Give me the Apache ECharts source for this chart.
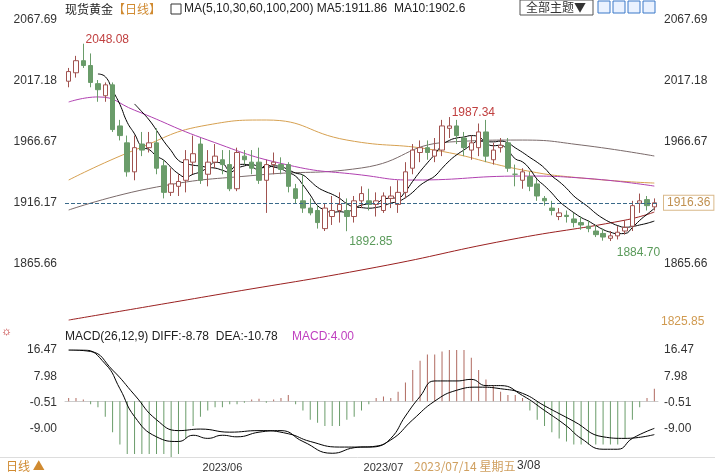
<!DOCTYPE html>
<html>
<head>
<meta charset="utf-8">
<script src="https://cdn.jsdelivr.net/npm/echarts@6/dist/echarts.min.js"></script>
<style>
  html, body { margin: 0; padding: 0; background: #fff; }
  #main { width: 715px; height: 475px; }
</style>
</head>
<body>
<div id="main"></div>
<script>
// 日K数据
const openPx  = [2017,2024,2034,2030,2015,2005,2014,1980,1966,1942,1965,1962,1966,1947,1925,1930,1935,1950,1965,1940,1950,1952,1948,1928,1955,1950,1950,1935,1948,1948,1948,1928,1918,1912,1910,1895,1905,1910,1910,1905,1918,1918,1915,1910,1920,1915,1925,1945,1958,1962,1955,1960,1978,1980,1970,1960,1962,1975,1952,1962,1966,1940,1935,1938,1932,1920,1912,1905,1906,1903,1900,1897,1893,1891,1887,1889,1893,1897,1916,1919,1913];
const closePx = [2025,2034,2030,2016,2010,2014,1977,1972,1942,1962,1960,1966,1945,1925,1932,1934,1952,1957,1935,1950,1955,1948,1928,1958,1952,1945,1935,1948,1950,1944,1930,1920,1912,1908,1900,1912,1910,1915,1905,1918,1924,1915,1918,1922,1922,1925,1942,1960,1962,1958,1960,1980,1980,1972,1962,1966,1975,1955,1960,1964,1945,1940,1942,1930,1922,1918,1910,1908,1905,1900,1898,1895,1890,1888,1889,1892,1896,1914,1918,1914,1916.36];
const lowPx   = [2012,2020,2028,2012,2000,2000,1975,1968,1938,1935,1955,1958,1940,1920,1922,1922,1925,1940,1932,1930,1945,1940,1926,1926,1948,1940,1932,1908,1940,1940,1925,1916,1908,1906,1895,1893,1898,1900,1892.85,1900,1912,1910,1905,1908,1912,1908,1920,1940,1950,1952,1950,1955,1970,1965,1955,1952,1955,1950,1948,1958,1942,1930,1928,1926,1918,1914,1906,1902,1900,1896,1894,1892,1888,1885,1884.7,1886,1890,1893,1908,1910,1910];
const highPx  = [2028,2038,2048.08,2040,2018,2016,2016,1985,1972,1972,1975,1975,1978,1952,1945,1940,1960,1972,1970,1960,1965,1960,1960,1962,1960,1960,1962,1952,1958,1954,1950,1932,1940,1920,1914,1916,1922,1925,1920,1922,1930,1928,1925,1925,1930,1935,1950,1965,1968,1968,1970,1985,1987.34,1985,1975,1972,1982,1985,1966,1970,1970,1948,1945,1942,1936,1922,1918,1912,1910,1908,1905,1902,1898,1895,1893,1897,1902,1918,1924,1922,1920];

// 长周期均线（估读点，[序号, 值]）
const ma30  = [[0,1999.8],[4,2004],[9,1993],[19,1968.3],[30,1947.6],[40,1939.4],[47,1935.2],[62,1938.5],[70,1936.9],[80,1930.2]];
const ma60  = [[0,1935.2],[9,1960],[19,1980.8],[27,1984.9],[38,1968.3],[50,1960],[62,1943.5],[70,1936.9],[80,1932.7]];
const ma100 = [[0,1910.4],[12,1929.4],[26,1939.4],[40,1945.2],[52,1966.7],[62,1968.3],[70,1964.2],[80,1955.1]];
const ma200 = [[0,1819.3],[20,1840],[42,1863],[60,1885.5],[76,1902],[80,1908.7]];

// MACD
const macdHist = [1,1,0.5,-1,-2,-5,-10,-14,-17,-17,-17,-17,-17,-17,-18,-17,-12,-8,-5,-3,-2,-2,-1,-1,-0.5,0.5,0.8,-0.5,0.5,1,2,-1,-3,-6,-7,-8,-8,-8,-6,-5,-3,-1,1,1.5,1,3,6,10,13,15,15,16,17,17,18,14,10,7,5,3,2,2,1,-3,-6,-8,-10,-12,-13,-14,-14,-14,-14,-14,-14,-14,-12,-6,-2,1,4];
const diffLine = [[0,16.5],[2,16.5],[5,12],[7,4],[9,-5],[12,-11.5],[15,-13],[17,-11],[19,-12],[21,-11],[23,-11.5],[26,-10],[29,-9.5],[32,-13],[36,-16.8],[39,-15],[42,-14.5],[44,-12],[46,-4.8],[48,1.5],[50,6.5],[53,6.5],[55,7],[57,5],[59,5],[62,1.8],[65,-3],[68,-8],[70,-12],[73,-15.5],[75,-15.5],[77,-12],[80,-8.78]];
const deaLine  = [[0,16.5],[3,16],[6,10],[9,2],[12,-6],[15,-9.5],[18,-9],[22,-10],[26,-9.5],[30,-10.5],[33,-13],[37,-14.8],[41,-14.8],[44,-12.5],[47,-6],[50,0],[53,3.5],[56,4.5],[59,4],[62,2.5],[65,-1.5],[69,-6.5],[73,-11.5],[76,-12],[80,-10.78]];

// 刻度
const priceTicks = [2067.69, 2017.18, 1966.67, 1916.17, 1865.66];
const macdTicks = [16.47, 7.98, -0.51, -9.00];
const monthStarts = ['2023/06/01', '2023/07/03'];
const lastPrice = 1916.36;

// 交易日（周一至周五）
const dates = [];
const d = new Date(2023, 4, 3);
while (dates.length < closePx.length) {
  if (d.getDay() !== 0 && d.getDay() !== 6) {
    dates.push(d.getFullYear() + '/' + String(d.getMonth() + 1).padStart(2, '0') + '/' + String(d.getDate()).padStart(2, '0'));
  }
  d.setDate(d.getDate() + 1);
}

const kData = closePx.map((c, i) => [openPx[i], c, lowPx[i], highPx[i]]);

function calcMA(n) {
  return closePx.map((c, i) => {
    if (i < n - 1) return '-';
    let s = 0;
    for (let k = i - n + 1; k <= i; k++) s += closePx[k];
    return +(s / n).toFixed(2);
  });
}

const fontFamily = '"Liberation Sans", Arial, sans-serif';
const chart = echarts.init(document.getElementById('main'));

const thin = (color) => ({
  type: 'line', symbol: 'none', connectNulls: true, smooth: true,
  lineStyle: { width: 1, color: color }, z: 3
});

const mark = (i, v, color, off) => ({
  coord: [i, v], value: v.toFixed(2),
  label: { color: color, offset: off }
});

chart.setOption({
  animation: false,
  textStyle: { fontFamily: fontFamily },
  grid: [
    { left: 65, right: 57, top: 20, height: 305 },
    { left: 65, right: 57, top: 350, height: 107 }
  ],
  xAxis: [
    { type: 'category', gridIndex: 0, data: dates, boundaryGap: true,
      axisLine: { show: false }, axisTick: { show: false }, axisLabel: { show: false } },
    { type: 'category', gridIndex: 1, data: dates, boundaryGap: true,
      axisLine: { lineStyle: { color: '#ccc' } }, axisTick: { show: false },
      axisLabel: { interval: 0, color: '#333', fontSize: 11, margin: 5,
        formatter: v => monthStarts.includes(v) ? v.slice(0, 7) : '' } }
  ],
  yAxis: [
    { type: 'value', gridIndex: 0, min: 1815.2, max: 2067.69, position: 'left',
      axisLine: { show: false }, axisTick: { show: false }, splitLine: { show: false },
      axisLabel: { customValues: priceTicks, color: '#333', fontSize: 12, margin: 8, formatter: v => v.toFixed(2) } },
    { type: 'value', gridIndex: 0, min: 1815.2, max: 2067.69, position: 'right',
      axisLine: { show: false }, axisTick: { show: false }, splitLine: { show: false },
      axisLabel: { customValues: priceTicks, color: '#333', fontSize: 12, margin: 6, formatter: v => v.toFixed(2) } },
    { type: 'value', gridIndex: 1, min: -18, max: 16.47, position: 'left',
      axisLine: { show: false }, axisTick: { show: false }, splitLine: { show: false },
      axisLabel: { customValues: macdTicks, color: '#333', fontSize: 12, margin: 8, formatter: v => v.toFixed(2) } },
    { type: 'value', gridIndex: 1, min: -18, max: 16.47, position: 'right',
      axisLine: { show: false }, axisTick: { show: false }, splitLine: { show: false },
      axisLabel: { customValues: macdTicks, color: '#333', fontSize: 12, margin: 6, formatter: v => v.toFixed(2) } }
  ],
  series: [
    Object.assign(thin('#c9b8c9'), { data: ma100, lineStyle: { width: 1, color: '#7a6a6a' } }),
    Object.assign(thin('#d6a050'), { data: ma60 }),
    Object.assign(thin('#b040b0'), { data: ma30 }),
    Object.assign(thin('#9a2020'), { data: ma200 }),
    {
      type: 'candlestick', data: kData, barWidth: 5, z: 4,
      itemStyle: { color: '#ffffff', color0: '#6a9c6a', borderColor: '#a0524f', borderColor0: '#6a9c6a', borderWidth: 1 },
      markPoint: {
        symbol: 'circle', symbolSize: 1,
        itemStyle: { color: 'rgba(0,0,0,0)' },
        data: [
          mark(2, 2048.08, '#c04040', [24, -4]),
          mark(52, 1987.34, '#c04040', [24, -4]),
          mark(38, 1892.85, '#5a9a5a', [24, 10]),
          mark(74, 1884.7, '#5a9a5a', [28, 12])
        ],
        label: { show: true, position: 'inside', fontSize: 12, formatter: p => p.value }
      },
      markLine: {
        symbol: 'none', silent: true,
        lineStyle: { type: 'dashed', color: '#3a6a8a', width: 1 },
        label: { position: 'end', formatter: () => lastPrice.toFixed(2), color: '#c09050',
          backgroundColor: '#fff', borderColor: '#d9b98a', borderWidth: 1, padding: [1, 3], fontSize: 12, distance: 6 },
        data: [{ yAxis: lastPrice }]
      }
    },
    Object.assign(thin('#000'), { data: calcMA(5), smooth: true }),
    Object.assign(thin('#000'), { data: calcMA(10), smooth: true }),
    {
      type: 'bar', xAxisIndex: 1, yAxisIndex: 2, barWidth: 1,
      data: macdHist.map(v => ({ value: v, itemStyle: { color: v >= 0 ? '#b06a60' : '#6a9c6a' } }))
    },
    { type: 'line', xAxisIndex: 1, yAxisIndex: 2, data: diffLine, symbol: 'none', smooth: true, lineStyle: { width: 1, color: '#000' } },
    { type: 'line', xAxisIndex: 1, yAxisIndex: 2, data: deaLine, symbol: 'none', smooth: true, lineStyle: { width: 1, color: '#000' } }
  ],
  graphic: [
    { type: 'text', left: 65, top: 3, style: { text: '现货黄金', fontSize: 12, fill: '#222', fontFamily: '"Noto Sans CJK SC"' } },
    { type: 'text', left: 113, top: 3, style: { text: '【日线】', fontSize: 12, fill: '#d08a30', fontFamily: '"Noto Sans CJK SC"' } },
    { type: 'rect', shape: { x: 171, y: 4, width: 10, height: 10 }, style: { fill: '#fff', stroke: '#333' } },
    { type: 'text', left: 184, top: 3, style: { text: 'MA(5,10,30,60,100,200) MA5:1911.86  MA10:1902.6', fontSize: 12, fill: '#222' } },
    { type: 'rect', shape: { x: 520, y: 0, width: 73, height: 15 }, style: { fill: '#fff', stroke: '#555' } },
    { type: 'text', left: 526, top: 1, style: { text: '全部主题▼', fontSize: 12, fill: '#333', fontFamily: '"Noto Sans CJK SC"' } },
    { type: 'rect', shape: { x: 598, y: 1, width: 12, height: 12 }, style: { fill: '#eaf2ff', stroke: '#3a78c8' } },
    { type: 'rect', shape: { x: 613, y: 1, width: 12, height: 12 }, style: { fill: '#eaf2ff', stroke: '#3a78c8' } },
    { type: 'rect', shape: { x: 628, y: 1, width: 12, height: 12 }, style: { fill: '#eaf2ff', stroke: '#3a78c8' } },
    { type: 'rect', shape: { x: 643, y: 1, width: 12, height: 12 }, style: { fill: '#eaf2ff', stroke: '#3a78c8' } },
    { type: 'text', left: 661, top: 316, style: { text: '1825.85', fontSize: 12, fill: '#d09a50' } },
    { type: 'text', left: 1, top: 326, style: { text: '☼', fontSize: 12, fill: '#c03030' } },
    { type: 'text', left: 65, top: 331, style: { text: 'MACD(26,12,9) DIFF:-8.78  DEA:-10.78', fontSize: 12, fill: '#222' } },
    { type: 'text', left: 292, top: 331, style: { text: 'MACD:4.00', fontSize: 12, fill: '#c040c0' } },
    { type: 'line', shape: { x1: 0, y1: 457.5, x2: 715, y2: 457.5 }, style: { stroke: '#ddd' } },
    { type: 'text', left: 6, top: 460, style: { text: '日线 ▲', fontSize: 12, fill: '#d08a30', fontFamily: '"Noto Sans CJK SC"' } },
    { type: 'text', left: 414, top: 460, style: { text: '2023/07/14 星期五', fontSize: 12, fill: '#d0a060', fontFamily: '"Noto Sans CJK SC"' } },
    { type: 'text', left: 517, top: 460, style: { text: '3/08', fontSize: 12, fill: '#333' } }
  ]
});
</script>
</body>
</html>
